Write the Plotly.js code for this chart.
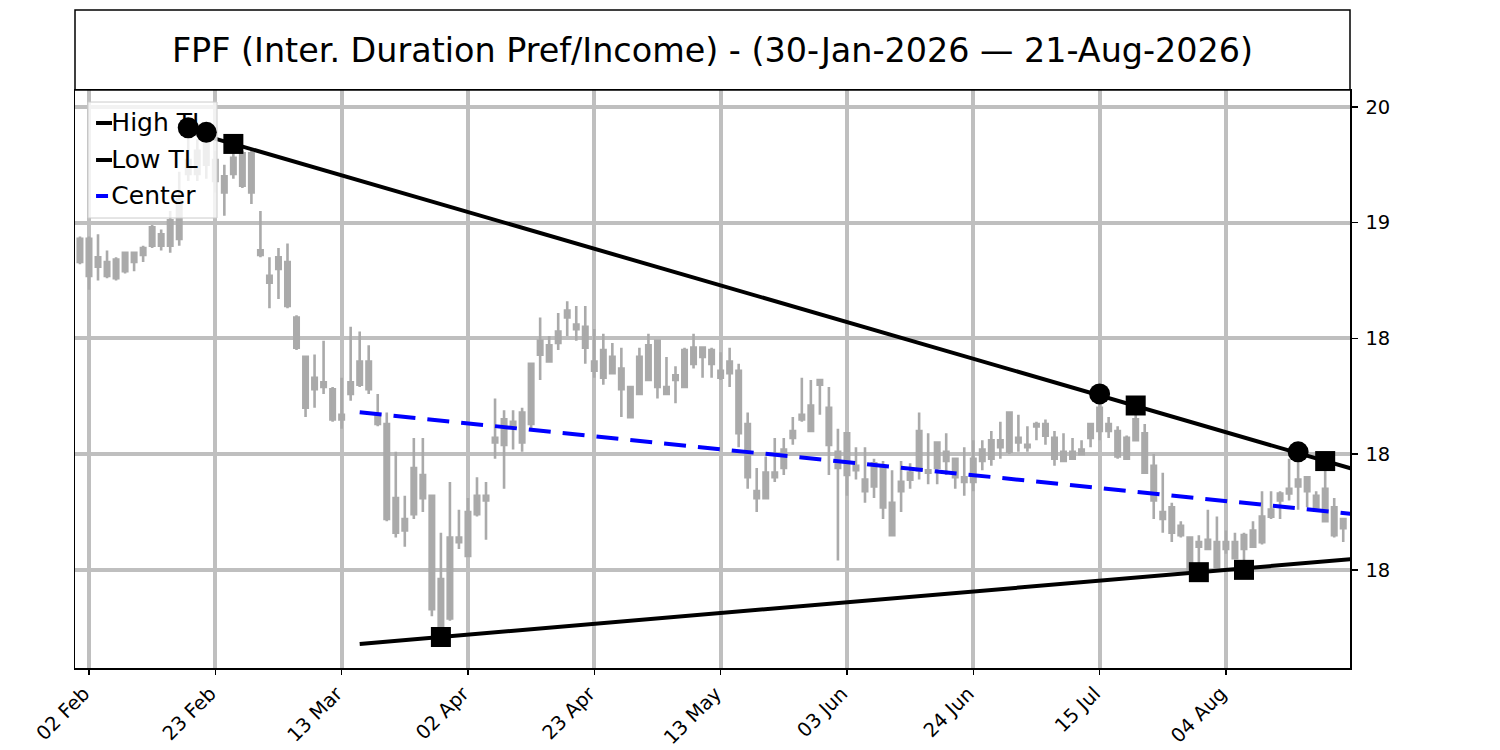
<!DOCTYPE html>
<html>
<head>
<meta charset="utf-8">
<script src="https://cdn.plot.ly/plotly-3.0.1.min.js"></script>
<style>
  body { margin: 0; background: #ffffff; }
  #plotChannel { width: 1500px; height: 750px; }
</style>
</head>
<body>
<div id="plotChannel"></div>
<script>
// trading day index 0 = 30 Jan 2026, one entry per session
const opens = [18.93,18.93,18.85,18.77,18.76,18.79,18.83,18.86,18.98,18.90,18.90,18.93,19.21,19.21,19.34,19.27,19.13,19.28,19.30,19.30,
  18.88,18.74,18.85,18.83,18.59,18.42,18.33,18.31,18.28,18.15,18.26,18.30,18.40,18.17,18.13,17.81,17.67,17.74,17.91,17.82,
  17.46,17.29,17.64,17.56,17.74,17.80,18.05,18.04,18.14,18.05,18.13,18.43,18.47,18.48,18.59,18.56,18.55,18.40,18.33,18.42,
  18.37,18.29,18.26,18.32,18.49,18.29,18.32,18.29,18.39,18.42,18.45,18.36,18.35,18.36,18.13,17.84,17.81,17.90,17.94,18.07,
  18.15,18.10,18.30,18.20,18.01,18.09,17.95,17.89,17.86,17.95,17.79,17.84,17.89,17.93,17.93,17.94,18.01,17.98,17.88,17.88,
  17.97,17.98,18.03,18.01,18.07,18.04,18.12,18.13,18.07,17.97,18.01,18.00,18.07,18.10,18.13,18.10,17.98,18.06,18.09,17.95,
  17.75,17.77,17.69,17.64,17.60,17.63,17.62,17.59,17.62,17.59,17.60,17.62,17.73,17.80,17.83,17.86,17.90,17.82,17.71,17.77,
  17.68];
const highs = [18.94,18.94,18.95,18.88,18.85,18.87,18.87,18.90,18.99,18.97,19.05,19.22,19.41,19.36,19.39,19.31,19.25,19.34,19.31,19.31,
  19.05,18.85,18.89,18.91,18.60,18.42,18.43,18.49,18.29,18.33,18.55,18.53,18.47,18.26,18.18,18.01,17.82,18.07,18.07,17.82,
  17.66,17.88,17.76,17.81,17.90,17.88,18.24,18.19,18.19,18.20,18.39,18.59,18.51,18.61,18.66,18.64,18.64,18.54,18.52,18.48,
  18.46,18.29,18.46,18.52,18.49,18.42,18.38,18.46,18.52,18.46,18.46,18.44,18.46,18.39,18.18,17.94,17.99,18.07,18.07,18.16,
  18.33,18.32,18.32,18.29,18.11,18.09,18.03,18.03,17.98,17.97,17.93,17.97,17.96,18.18,18.09,18.05,18.09,17.98,18.03,18.06,
  18.06,18.10,18.14,18.18,18.17,18.12,18.14,18.15,18.10,18.09,18.07,18.06,18.13,18.26,18.16,18.12,18.08,18.21,18.13,18.00,
  17.92,17.79,17.71,17.64,17.65,17.76,17.73,17.67,17.66,17.66,17.71,17.84,17.84,17.84,17.98,18.01,17.90,17.84,17.97,17.81,
  17.72];
const lows = [18.82,18.71,18.75,18.76,18.75,18.78,18.79,18.83,18.89,18.88,18.87,18.90,19.18,19.18,19.19,19.13,19.03,19.19,19.15,19.08,
  18.85,18.63,18.67,18.63,18.45,18.16,18.20,18.26,18.14,18.11,18.23,18.29,18.26,18.12,17.71,17.64,17.60,17.72,17.75,17.30,
  17.21,17.28,17.59,17.56,17.73,17.63,17.98,17.85,18.02,18.01,18.11,18.32,18.40,18.45,18.51,18.49,18.39,18.33,18.30,18.35,
  18.16,18.16,18.26,18.32,18.24,18.26,18.22,18.29,18.37,18.33,18.33,18.32,18.29,18.03,17.85,17.75,17.81,17.88,17.91,18.04,
  18.14,18.10,18.17,17.91,17.54,17.82,17.89,17.79,17.81,17.72,17.65,17.75,17.85,17.89,17.87,17.87,17.91,17.85,17.82,17.84,
  17.93,17.95,17.98,18.00,18.01,18.01,18.06,18.04,17.95,17.97,17.98,18.00,18.03,18.06,18.07,17.98,17.98,18.06,17.92,17.72,
  17.66,17.62,17.64,17.50,17.49,17.59,17.51,17.57,17.55,17.50,17.60,17.61,17.72,17.72,17.80,17.76,17.77,17.75,17.71,17.64,
  17.62];
const closes = [18.83,18.77,18.81,18.83,18.84,18.87,18.87,18.89,18.90,18.95,19.01,19.10,19.27,19.31,19.25,19.18,19.20,19.21,19.16,19.13,
  18.86,18.77,18.80,18.64,18.46,18.20,18.28,18.29,18.15,18.17,18.31,18.40,18.28,18.13,17.72,17.66,17.72,17.94,17.81,17.33,
  17.25,17.64,17.62,17.75,17.82,17.82,18.07,18.15,18.12,18.18,18.39,18.49,18.40,18.53,18.62,18.54,18.46,18.36,18.45,18.35,
  18.28,18.16,18.42,18.47,18.29,18.26,18.34,18.45,18.46,18.46,18.39,18.33,18.40,18.09,17.90,17.81,17.92,17.92,18.02,18.10,
  18.17,18.21,18.32,18.04,17.94,17.91,17.93,17.84,17.96,17.77,17.65,17.88,17.92,18.10,17.92,18.05,17.97,17.90,17.90,17.98,
  18.02,18.06,18.06,18.18,18.05,18.03,18.13,18.08,17.98,18.01,17.98,18.02,18.13,18.20,18.10,17.99,18.07,18.15,17.92,17.80,
  17.72,17.66,17.65,17.50,17.62,17.59,17.51,17.62,17.55,17.65,17.67,17.73,17.76,17.83,17.85,17.89,17.84,17.77,17.85,17.65,
  17.72];

const tickIdx = [1, 15, 29, 43, 57, 71, 85, 99, 113, 127];
const tickLabels = ["02 Feb", "23 Feb", "13 Mar", "02 Apr", "23 Apr", "13 May", "03 Jun", "24 Jun", "15 Jul", "04 Aug"];
const priceTicks = [17.5, 18.0, 18.5, 19.0, 19.5];
const priceLabels = ["18", "18", "18", "19", "20"];

// pivots and trendline anchors
const pivotHighIdx = [12, 14, 113, 135];
const pivotHighVal = [19.41, 19.39, 18.26, 18.01];
const touchHighIdx = [17, 117, 138];
const touchHighVal = [19.34, 18.21, 17.97];
const touchLowIdx = [40, 124, 129];
const touchLowVal = [17.21, 17.49, 17.50];
const highTLIdx = [14, 142];
const highTLVal = [19.374, 17.925];
const lowTLIdx = [31, 142];
const lowTLVal = [17.18, 17.55];

const legendNames = ["High TL", "Low TL", "Center"];
const legendColors = ["#000000", "#000000", "#0000ff"];
const legendDash = ["solid", "solid", "dash"];

const xRange = [-0.55, 140.75];
const yRange = [17.076, 19.573];

const candleIdx = opens.map((_, i) => i);

function lineAt(xs, ys, x) {
    const t = (x - xs[0]) / (xs[1] - xs[0]);
    return ys[0] + t * (ys[1] - ys[0]);
}

const centerIdx = lowTLIdx.slice();
const centerVal = centerIdx.map(x => (lineAt(highTLIdx, highTLVal, x) + lineAt(lowTLIdx, lowTLVal, x)) / 2);

const candleGray = "#aaaaaa";

const traceCandles = {
    type: "candlestick",
    x: candleIdx,
    open: opens,
    high: highs,
    low: lows,
    close: closes,
    whiskerwidth: 0,
    increasing: { line: { color: candleGray, width: 2.6 }, fillcolor: candleGray },
    decreasing: { line: { color: candleGray, width: 2.6 }, fillcolor: candleGray },
    hoverinfo: "skip"
};

const traceHigh = {
    x: highTLIdx, y: highTLVal,
    mode: "lines", type: "scatter",
    line: { color: "#000000", width: 4 }
};

const traceLow = {
    x: lowTLIdx, y: lowTLVal,
    mode: "lines", type: "scatter",
    line: { color: "#000000", width: 4 }
};

const traceCenter = {
    x: centerIdx, y: centerVal,
    mode: "lines", type: "scatter",
    line: { color: "#0000ff", width: 4, dash: "22px,12px" }
};

// legend box drawn on its own overlay so the pivot markers can sit above it
const legBox = { x0: 0.0102, x1: 0.1114, y0: 0.7785, y1: 0.9792 };
const legRows = [0.9429, 0.8789, 0.8166];
const legLineX = [0.0165, 0.0290];
const legTextX = 0.0285;
const legTextDrop = 0.0035;

const traceLegendBox = {
    x: [legBox.x0, legBox.x1, legBox.x1, legBox.x0, legBox.x0],
    y: [legBox.y0, legBox.y0, legBox.y1, legBox.y1, legBox.y0],
    xaxis: "x2", yaxis: "y2",
    mode: "lines", type: "scatter", fill: "toself",
    fillcolor: "rgba(255,255,255,0.8)",
    line: { color: "#cccccc", width: 1 },
    hoverinfo: "skip"
};

const traceLegendLines = legendNames.map((name, i) => ({
    x: legLineX, y: [legRows[i], legRows[i]],
    xaxis: "x2", yaxis: "y2",
    mode: "lines", type: "scatter",
    line: { color: legendColors[i], width: 4, dash: legendDash[i] },
    hoverinfo: "skip"
}));

const traceLegendText = {
    x: legendNames.map(() => legTextX), y: legRows.map(r => r - legTextDrop),
    xaxis: "x2", yaxis: "y2",
    mode: "text", type: "scatter",
    text: legendNames,
    textposition: "middle right",
    textfont: { family: "DejaVu Sans", size: 25, color: "#000000" },
    hoverinfo: "skip"
};

const tracePivots = {
    x: pivotHighIdx, y: pivotHighVal,
    xaxis: "x3", yaxis: "y3",
    mode: "markers", type: "scatter",
    marker: { symbol: "circle", size: 21, color: "#000000" }
};

const traceTouchHigh = {
    x: touchHighIdx, y: touchHighVal,
    xaxis: "x3", yaxis: "y3",
    mode: "markers", type: "scatter",
    marker: { symbol: "square", size: 20, color: "#000000" }
};

const traceTouchLow = {
    x: touchLowIdx, y: touchLowVal,
    xaxis: "x3", yaxis: "y3",
    mode: "markers", type: "scatter",
    marker: { symbol: "square", size: 20, color: "#000000" }
};

const gridGray = "#bfbfbf";

const layout = {
    width: 1500,
    height: 750,
    margin: { l: 75, r: 150, t: 90, b: 82 },
    font: { family: "DejaVu Sans", color: "#000000", size: 19 },
    paper_bgcolor: "#ffffff",
    plot_bgcolor: "#ffffff",
    showlegend: false,
    title: {
        text: "FPF (Inter. Duration Pref/Income) - (30-Jan-2026 — 21-Aug-2026)",
        font: { family: "DejaVu Sans", size: 33.4, color: "#000000" },
        xref: "paper", x: 0.5, xanchor: "center",
        yref: "container", y: 1 - 50 / 750, yanchor: "middle"
    },
    xaxis: {
        range: xRange,
        tickmode: "array",
        tickvals: tickIdx,
        ticktext: tickLabels,
        tickangle: -45,
        ticklabelshift: -5,
        ticks: "outside", ticklen: 5, tickwidth: 1.5, tickcolor: "#000000",
        showgrid: true, gridcolor: gridGray, gridwidth: 4,
        showline: true, linecolor: "#000000", linewidth: 1.5, mirror: true,
        zeroline: false,
        rangeslider: { visible: false },
        tickfont: { size: 19.5 }
    },
    yaxis: {
        side: "right",
        range: yRange,
        tickmode: "array",
        tickvals: priceTicks,
        ticktext: priceLabels,
        ticks: "outside", ticklen: 6, tickwidth: 1.5, tickcolor: "#000000",
        ticklabelstandoff: 4,
        showgrid: true, gridcolor: gridGray, gridwidth: 4,
        showline: true, linecolor: "#000000", linewidth: 1.5, mirror: true,
        zeroline: false,
        tickfont: { size: 19.5 }
    },
    xaxis2: { overlaying: "x", anchor: "y2", range: [0, 1], visible: false, fixedrange: true },
    yaxis2: { overlaying: "y", anchor: "x2", range: [0, 1], visible: false, fixedrange: true },
    xaxis3: { overlaying: "x", anchor: "y3", range: xRange, visible: false, fixedrange: true },
    yaxis3: { overlaying: "y", anchor: "x3", range: yRange, visible: false, fixedrange: true },
    shapes: [{
        type: "rect", xref: "paper", yref: "paper",
        x0: 0, x1: 1, y0: 1, y1: 1 + 80 / 578,
        line: { color: "#000000", width: 1.5 },
        fillcolor: "rgba(0,0,0,0)"
    }],
    hovermode: "closest"
};

Plotly.newPlot("plotChannel",
    [traceCandles, traceHigh, traceLow, traceCenter,
     traceLegendBox, ...traceLegendLines, traceLegendText,
     tracePivots, traceTouchHigh, traceTouchLow],
    layout, { displayModeBar: false, staticPlot: true });
</script>
</body>
</html>
